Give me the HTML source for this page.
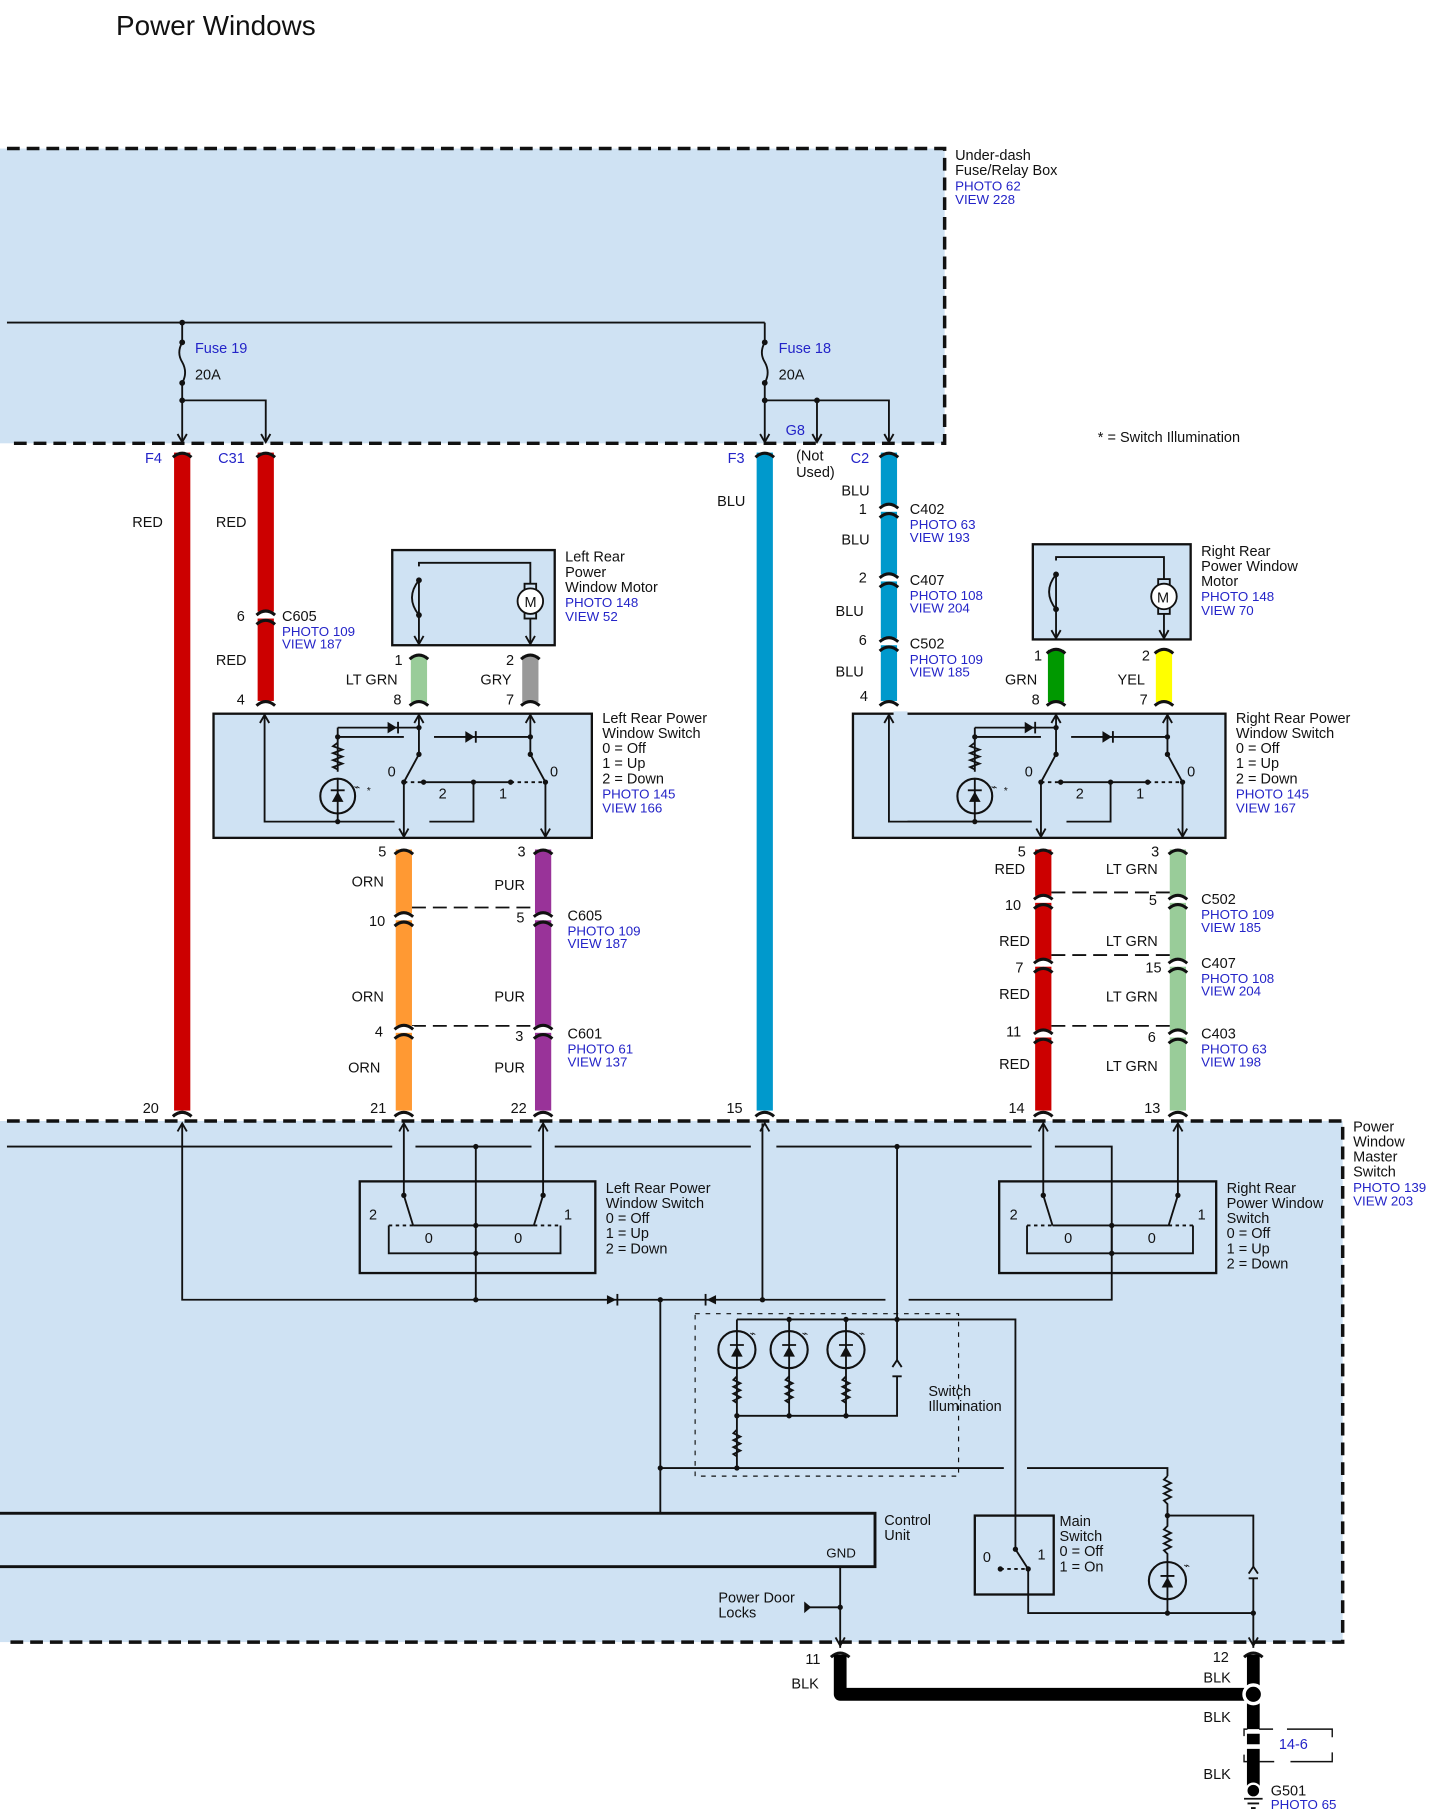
<!DOCTYPE html>
<html><head><meta charset="utf-8"><style>
html,body{margin:0;padding:0;background:#fff}
svg{display:block}
text{font-family:"Liberation Sans",Arial,sans-serif;font-size:12.5px;fill:#111}
.b{fill:#2424c8;font-size:11.5px}
.ln{stroke:#111;stroke-width:1.6;fill:none}
.bx{stroke:#111;stroke-width:2;fill:#cfe2f3}
.dot{fill:#111}
.cap{stroke:#111;stroke-width:2.6;fill:none}
</style></head><body>
<svg width="1439" height="1815" viewBox="0 0 1240 1564" preserveAspectRatio="none" xmlns="http://www.w3.org/2000/svg">
<defs>
<path id="ct" d="M-8,4 Q0,-3 8,4" class="cap"/>
<path id="ar" d="M-4,-7 L0,0 L4,-7" class="ln"/>
<path id="au" d="M-4,7 L0,0 L4,7" class="ln"/>
</defs>
<text x="100" y="30" style="font-size:24px">Power Windows</text>

<!-- top fuse box -->
<rect x="0" y="128" width="814" height="254" fill="#cfe2f3"/>
<path d="M6,128 H814 V382 H6" fill="none" stroke="#111" stroke-width="3" stroke-dasharray="11,6"/>
<text x="823" y="138">Under-dash</text><text x="823" y="151">Fuse/Relay Box</text>
<text x="823" y="164" class="b">PHOTO 62</text><text x="823" y="176" class="b">VIEW 228</text>
<path class="ln" d="M6,278 H659"/>
<path class="ln" d="M157,278 V295 q-5,9 0,17 q5,9 0,18 V380 M157,345 H229 V380"/>
<path class="ln" d="M659,278 V295 q-5,9 0,17 q5,9 0,18 V380 M659,345 H766 V380 M704,345 V380"/>
<g class="dot"><circle cx="157" cy="278" r="2.5"/><circle cx="157" cy="295" r="2.5"/><circle cx="157" cy="330" r="2.5"/><circle cx="157" cy="345" r="2.5"/>
<circle cx="659" cy="295" r="2.5"/><circle cx="659" cy="330" r="2.5"/><circle cx="659" cy="345" r="2.5"/><circle cx="704" cy="345" r="2.5"/></g>
<use href="#ar" x="157" y="381"/><use href="#ar" x="229" y="381"/><use href="#ar" x="659" y="381"/><use href="#ar" x="704" y="381"/><use href="#ar" x="766" y="381"/>
<text x="168" y="304" class="b" style="font-size:12.5px">Fuse 19</text><text x="168" y="327">20A</text>
<text x="671" y="304" class="b" style="font-size:12.5px">Fuse 18</text><text x="671" y="327">20A</text>
<text x="677" y="375" class="b" style="font-size:12.5px">G8</text>
<text x="946" y="381">* =  Switch Illumination</text>

<text x="125" y="399" class="b" style="font-size:12.5px">F4</text><text x="188" y="399" class="b" style="font-size:12.5px">C31</text>
<text x="627" y="399" class="b" style="font-size:12.5px">F3</text><text x="733" y="399" class="b" style="font-size:12.5px">C2</text>
<text x="686" y="397">(Not</text><text x="686" y="411">Used)</text>

<!-- long wires -->
<rect x="150" y="390" width="14" height="567" fill="#cc0000"/>
<rect x="222" y="390" width="14" height="214" fill="#cc0000"/>
<rect x="652" y="390" width="14" height="567" fill="#0099cc"/>
<rect x="759" y="390" width="14" height="214" fill="#0099cc"/>
<use href="#ct" x="157" y="390"/><use href="#ct" x="229" y="390"/><use href="#ct" x="659" y="390"/><use href="#ct" x="766" y="390"/>
<text x="114" y="454">RED</text><text x="186" y="454">RED</text><text x="618" y="436">BLU</text><text x="725" y="427">BLU</text>
<!-- C605 on C31 -->
<rect x="220" y="527" width="18" height="6" fill="#fff"/><use href="#ct" x="229" y="526"/><use href="#ct" x="229" y="534"/>
<text x="204" y="535">6</text><text x="243" y="535">C605</text><text x="243" y="548" class="b">PHOTO 109</text><text x="243" y="559" class="b">VIEW 187</text>
<text x="186" y="573">RED</text><text x="204" y="607">4</text><use href="#ct" x="229" y="604"/>
<!-- blue connectors -->
<rect x="757" y="435" width="18" height="6" fill="#fff"/><use href="#ct" x="766" y="434"/><use href="#ct" x="766" y="442"/>
<text x="740" y="443">1</text><text x="784" y="443">C402</text><text x="784" y="456" class="b">PHOTO 63</text><text x="784" y="467" class="b">VIEW 193</text>
<text x="725" y="469">BLU</text>
<rect x="757" y="495" width="18" height="6" fill="#fff"/><use href="#ct" x="766" y="494"/><use href="#ct" x="766" y="502"/>
<text x="740" y="502">2</text><text x="784" y="504">C407</text><text x="784" y="517" class="b">PHOTO 108</text><text x="784" y="528" class="b">VIEW 204</text>
<text x="720" y="531">BLU</text>
<rect x="757" y="550" width="18" height="6" fill="#fff"/><use href="#ct" x="766" y="549"/><use href="#ct" x="766" y="557"/>
<text x="740" y="556">6</text><text x="784" y="559">C502</text><text x="784" y="572" class="b">PHOTO 109</text><text x="784" y="583" class="b">VIEW 185</text>
<text x="720" y="583">BLU</text><text x="741" y="604">4</text><use href="#ct" x="766" y="604"/>

<!-- Left rear motor -->
<rect class="bx" x="338" y="474" width="140" height="82"/>
<path class="ln" d="M361,554 V500 M361,488 V485 H457 V554 M361,500 q-12,15 0,30 V554"/>
<circle cx="361" cy="500" r="2.5" class="dot"/><circle cx="361" cy="530" r="2.5" class="dot"/>
<rect x="452" y="503" width="10" height="30" class="ln" style="fill:#cfe2f3"/>
<circle cx="457" cy="518" r="11" fill="#fff" stroke="#111" stroke-width="1.6"/><text x="452" y="523">M</text>
<use href="#ar" x="361" y="555"/><use href="#ar" x="457" y="555"/>
<text x="487" y="484">Left Rear</text><text x="487" y="497">Power</text><text x="487" y="510">Window Motor</text>
<text x="487" y="523" class="b">PHOTO 148</text><text x="487" y="535" class="b">VIEW 52</text>
<rect x="354" y="565" width="14" height="40" fill="#99cc99"/><rect x="450" y="565" width="14" height="40" fill="#999"/>
<use href="#ct" x="361" y="564"/><use href="#ct" x="457" y="564"/><use href="#ct" x="361" y="604"/><use href="#ct" x="457" y="604"/>
<text x="340" y="573">1</text><text x="436" y="573">2</text><text x="298" y="590">LT GRN</text><text x="414" y="590">GRY</text>
<text x="339" y="607">8</text><text x="436" y="607">7</text>

<!-- Right rear motor -->
<rect class="bx" x="890" y="469" width="136" height="82"/>
<path class="ln" d="M910,549 V495 M910,483 V480 H1003 V549 M910,495 q-12,15 0,30 V549"/>
<circle cx="910" cy="495" r="2.5" class="dot"/><circle cx="910" cy="525" r="2.5" class="dot"/>
<rect x="998" y="499" width="10" height="30" class="ln" style="fill:#cfe2f3"/>
<circle cx="1003" cy="514" r="11" fill="#fff" stroke="#111" stroke-width="1.6"/><text x="997" y="519">M</text>
<use href="#ar" x="910" y="550"/><use href="#ar" x="1003" y="550"/>
<text x="1035" y="479">Right Rear</text><text x="1035" y="492">Power Window</text><text x="1035" y="505">Motor</text>
<text x="1035" y="518" class="b">PHOTO 148</text><text x="1035" y="530" class="b">VIEW 70</text>
<rect x="903" y="560" width="14" height="45" fill="#009900"/><rect x="996" y="560" width="14" height="45" fill="#ffff00"/>
<use href="#ct" x="910" y="559"/><use href="#ct" x="1003" y="559"/><use href="#ct" x="910" y="604"/><use href="#ct" x="1003" y="604"/>
<text x="891" y="569">1</text><text x="984" y="569">2</text><text x="866" y="590">GRN</text><text x="963" y="590">YEL</text>
<text x="889" y="607">8</text><text x="982" y="607">7</text>

<!-- Left rear switch -->
<rect class="bx" x="184" y="615" width="326" height="107"/>
<g id="sw">
<path class="ln" d="M228,616 V708 H340 M370,708 H408 V674 M291,627 H361 M291,627 V665 M291,635 H348 M374,635 H457 M361,616 V650 L348,674 V720 M457,616 V650 L470,674 V720 M365,674 H440 M291,700 V708"/>
<path class="ln" d="M348,674 H365 M440,674 H470" stroke-dasharray="3,3"/>
<path class="ln" d="M291,640 l-4,3 l8,3 l-8,3 l8,3 l-8,3 l8,3 l-8,3 l4,2"/>
<circle cx="291" cy="686" r="15" fill="none" stroke="#111" stroke-width="1.8"/><path class="ln" d="M291,671 V701"/><path d="M286,691 L296,691 L291,682 Z" class="dot"/><path class="ln" d="M285,681 H297"/>
<path d="M334,622 L342,627 L334,632Z" class="dot"/><path class="ln" d="M343,622 V632"/>
<path d="M401,630 L409,635 L401,640Z" class="dot"/><path class="ln" d="M410,630 V640"/>
<g class="dot"><circle cx="291" cy="635" r="2.3"/><circle cx="361" cy="627" r="2.3"/><circle cx="361" cy="650" r="2.3"/><circle cx="457" cy="635" r="2.3"/><circle cx="457" cy="650" r="2.3"/><circle cx="348" cy="674" r="2.3"/><circle cx="470" cy="674" r="2.3"/><circle cx="365" cy="674" r="2.3"/><circle cx="408" cy="674" r="2.3"/><circle cx="440" cy="674" r="2.3"/><circle cx="291" cy="708" r="2.3"/></g>
<use href="#au" x="228" y="616"/><use href="#au" x="361" y="616"/><use href="#au" x="457" y="616"/><use href="#ar" x="348" y="721"/><use href="#ar" x="470" y="721"/>
<text x="334" y="669">0</text><text x="474" y="669">0</text><text x="378" y="688">2</text><text x="430" y="688">1</text>
<text x="305" y="681" style="font-size:9px">⌁</text><text x="316" y="684" style="font-size:9px">*</text>
</g>
<text x="519" y="623">Left Rear Power</text><text x="519" y="636">Window Switch</text><text x="519" y="649">0 = Off</text><text x="519" y="662">1 = Up</text><text x="519" y="675">2 = Down</text>
<text x="519" y="688" class="b">PHOTO 145</text><text x="519" y="700" class="b">VIEW 166</text>

<!-- Right rear switch -->
<rect class="bx" x="735" y="615" width="321" height="107"/>
<use href="#sw" x="549" y="0"/>
<rect x="770" y="613" width="12" height="100" fill="#cfe2f3"/>
<path class="ln" d="M766,616 V708 H889"/><use href="#au" x="766" y="616"/>
<text x="1065" y="623">Right Rear Power</text><text x="1065" y="636">Window Switch</text><text x="1065" y="649">0 = Off</text><text x="1065" y="662">1 = Up</text><text x="1065" y="675">2 = Down</text>
<text x="1065" y="688" class="b">PHOTO 145</text><text x="1065" y="700" class="b">VIEW 167</text>

<!-- left lower wires -->
<rect x="341" y="732" width="14" height="225" fill="#ff9933"/><rect x="461" y="732" width="14" height="225" fill="#993399"/>
<use href="#ct" x="348" y="732"/><use href="#ct" x="468" y="732"/>
<text x="326" y="738">5</text><text x="446" y="738">3</text><text x="303" y="764">ORN</text><text x="426" y="767">PUR</text>
<path d="M355,782 H461 M355,884 H461" stroke="#111" stroke-width="1.6" stroke-dasharray="12,6"/>
<rect x="339" y="787" width="18" height="6" fill="#fff"/><rect x="459" y="787" width="18" height="6" fill="#fff"/>
<use href="#ct" x="348" y="786"/><use href="#ct" x="348" y="794"/><use href="#ct" x="468" y="786"/><use href="#ct" x="468" y="794"/>
<text x="318" y="798">10</text><text x="445" y="795">5</text><text x="489" y="793">C605</text><text x="489" y="806" class="b">PHOTO 109</text><text x="489" y="817" class="b">VIEW 187</text>
<text x="303" y="863">ORN</text><text x="426" y="863">PUR</text>
<rect x="339" y="884" width="18" height="6" fill="#fff"/><rect x="459" y="884" width="18" height="6" fill="#fff"/>
<use href="#ct" x="348" y="883"/><use href="#ct" x="348" y="891"/><use href="#ct" x="468" y="883"/><use href="#ct" x="468" y="891"/>
<text x="323" y="893">4</text><text x="444" y="897">3</text><text x="489" y="895">C601</text><text x="489" y="908" class="b">PHOTO 61</text><text x="489" y="919" class="b">VIEW 137</text>
<text x="300" y="924">ORN</text><text x="426" y="924">PUR</text>

<!-- right lower wires -->
<rect x="892" y="732" width="14" height="225" fill="#cc0000"/><rect x="1008" y="732" width="14" height="225" fill="#99cc99"/>
<use href="#ct" x="899" y="732"/><use href="#ct" x="1015" y="732"/>
<text x="877" y="738">5</text><text x="992" y="738">3</text><text x="857" y="753">RED</text><text x="953" y="753">LT GRN</text>
<path d="M906,769 H1008 M906,823 H1008 M906,884 H1008" stroke="#111" stroke-width="1.6" stroke-dasharray="12,6"/>
<rect x="890" y="772" width="18" height="6" fill="#fff"/><rect x="1006" y="772" width="18" height="6" fill="#fff"/>
<use href="#ct" x="899" y="771"/><use href="#ct" x="899" y="779"/><use href="#ct" x="1015" y="771"/><use href="#ct" x="1015" y="779"/>
<text x="866" y="784">10</text><text x="990" y="780">5</text><text x="1035" y="779">C502</text><text x="1035" y="792" class="b">PHOTO 109</text><text x="1035" y="803" class="b">VIEW 185</text>
<text x="861" y="815">RED</text><text x="953" y="815">LT GRN</text>
<rect x="890" y="827" width="18" height="6" fill="#fff"/><rect x="1006" y="827" width="18" height="6" fill="#fff"/>
<use href="#ct" x="899" y="826"/><use href="#ct" x="899" y="834"/><use href="#ct" x="1015" y="826"/><use href="#ct" x="1015" y="834"/>
<text x="875" y="838">7</text><text x="987" y="838">15</text><text x="1035" y="834">C407</text><text x="1035" y="847" class="b">PHOTO 108</text><text x="1035" y="858" class="b">VIEW 204</text>
<text x="861" y="861">RED</text><text x="953" y="863">LT GRN</text>
<rect x="890" y="888" width="18" height="6" fill="#fff"/><rect x="1006" y="888" width="18" height="6" fill="#fff"/>
<use href="#ct" x="899" y="887"/><use href="#ct" x="899" y="895"/><use href="#ct" x="1015" y="887"/><use href="#ct" x="1015" y="895"/>
<text x="867" y="893">11</text><text x="989" y="898">6</text><text x="1035" y="895">C403</text><text x="1035" y="908" class="b">PHOTO 63</text><text x="1035" y="919" class="b">VIEW 198</text>
<text x="861" y="921">RED</text><text x="953" y="923">LT GRN</text>

<!-- bottom pin labels -->
<text x="123" y="959">20</text><text x="319" y="959">21</text><text x="440" y="959">22</text><text x="626" y="959">15</text><text x="869" y="959">14</text><text x="986" y="959">13</text>
<g><path class="cap" d="M149,962 Q157,955 165,962"/></g>

<!-- master switch box -->
<rect x="0" y="966" width="1157" height="449" fill="#cfe2f3"/>
<path d="M6,966 H1157 V1415 H6" fill="none" stroke="#111" stroke-width="3" stroke-dasharray="11,6"/>
<g><use href="#ct" x="157" y="958"/><use href="#ct" x="348" y="958"/><use href="#ct" x="468" y="958"/><use href="#ct" x="659" y="958"/><use href="#ct" x="899" y="958"/><use href="#ct" x="1015" y="958"/></g>
<text x="1166" y="975">Power</text><text x="1166" y="988">Window</text><text x="1166" y="1001">Master</text><text x="1166" y="1014">Switch</text>
<text x="1166" y="1027" class="b">PHOTO 139</text><text x="1166" y="1039" class="b">VIEW 203</text>

<path class="ln" d="M6,988 H338 M358,988 H458 M478,988 H647 M669,988 H889 M909,988 H958 V1120 H783 M763,1120 H157 V968 M657,968 V1120 M410,988 V1120 M348,968 V1030 L356,1056 M468,968 V1030 L460,1056 M356,1056 H460 M335,1056 V1080 H483 V1056"/>
<path class="ln" d="M335,1056 H356 M460,1056 H483" stroke-dasharray="3,3"/>
<rect class="bx" x="310" y="1018" width="203" height="79" style="fill:none"/>
<text x="318" y="1051">2</text><text x="486" y="1051">1</text><text x="366" y="1071">0</text><text x="443" y="1071">0</text>
<text x="522" y="1028">Left Rear Power</text><text x="522" y="1041">Window Switch</text><text x="522" y="1054">0 = Off</text><text x="522" y="1067">1 = Up</text><text x="522" y="1080">2 = Down</text>
<g transform="translate(550,0)">
<path class="ln" d="M349,968 V1030 L357,1056 M465,968 V1030 L457,1056 M357,1056 H457 M335,1056 V1080 H478 V1056 M408,1056 V1080"/>
<path class="ln" d="M335,1056 H357 M457,1056 H478" stroke-dasharray="3,3"/>
<text x="320" y="1051">2</text><text x="482" y="1051">1</text><text x="367" y="1071">0</text><text x="439" y="1071">0</text>
</g>
<rect class="bx" x="861" y="1018" width="187" height="79" style="fill:none"/>
<text x="1057" y="1028">Right Rear</text><text x="1057" y="1041">Power Window</text><text x="1057" y="1054">Switch</text><text x="1057" y="1067">0 = Off</text><text x="1057" y="1080">1 = Up</text><text x="1057" y="1093">2 = Down</text>
<use href="#au" x="157" y="968"/><use href="#au" x="348" y="968"/><use href="#au" x="468" y="968"/><use href="#au" x="659" y="968"/><use href="#au" x="899" y="968"/><use href="#au" x="1015" y="968"/>
<g class="dot"><circle cx="410" cy="988" r="2.3"/><circle cx="410" cy="1056" r="2.3"/><circle cx="410" cy="1080" r="2.3"/><circle cx="410" cy="1120" r="2.3"/><circle cx="958" cy="1056" r="2.3"/><circle cx="958" cy="1080" r="2.3"/><circle cx="773" cy="988" r="2.3"/><circle cx="569" cy="1120" r="2.3"/><circle cx="657" cy="1120" r="2.3"/><circle cx="348" cy="1030" r="2.3"/><circle cx="468" cy="1030" r="2.3"/><circle cx="899" cy="1030" r="2.3"/><circle cx="1015" cy="1030" r="2.3"/></g>
<path d="M523,1116 L531,1120 L523,1124Z" class="dot"/><path class="ln" d="M532,1115 V1125"/>
<path d="M617,1116 L609,1120 L617,1124Z" class="dot"/><path class="ln" d="M608,1115 V1125"/>

<!-- switch illumination -->
<rect x="599" y="1132" width="227" height="140" fill="none" stroke="#111" stroke-width="1" stroke-dasharray="4,5"/>
<text x="800" y="1203">Switch</text><text x="800" y="1216">Illumination</text>
<path class="ln" d="M773,988 V1172 M773,1186 V1220 H635 M635,1137 H875 V1335 L886,1352 V1390 H1080 M569,1120 V1304 M569,1265 H865 M885,1265 H1006 V1272 M635,1220 V1265 M680,1137 V1220 M729,1137 V1220 M635,1137 V1220"/>
<path class="ln" d="M769,1178 L773,1172 L777,1178 M769,1186 H777"/>
<g id="lamp"><circle cx="635" cy="1163" r="16" fill="#cfe2f3" stroke="#111" stroke-width="1.8"/><path d="M630,1169 H640 L635,1160Z" class="dot"/><path class="ln" d="M629,1159 H641 M635,1147 V1179"/>
<path class="ln" d="M635,1186 l-3,3 l6,3 l-6,3 l6,3 l-6,3 l6,3 l-6,3 l3,2"/><text x="646" y="1152" style="font-size:9px">⌁</text></g>
<use href="#lamp" x="45"/><use href="#lamp" x="94"/>
<path class="ln" d="M635,1232 l-3,3 l6,3 l-6,3 l6,3 l-6,3 l6,3 l-6,3 l3,2"/>
<g class="dot"><circle cx="680" cy="1137" r="2.3"/><circle cx="729" cy="1137" r="2.3"/><circle cx="773" cy="1137" r="2.3"/><circle cx="680" cy="1220" r="2.3"/><circle cx="729" cy="1220" r="2.3"/><circle cx="635" cy="1220" r="2.3"/><circle cx="635" cy="1265" r="2.3"/><circle cx="569" cy="1265" r="2.3"/><circle cx="1006" cy="1306" r="2.3"/><circle cx="1006" cy="1390" r="2.3"/><circle cx="1080" cy="1390" r="2.3"/><circle cx="875" cy="1335" r="2.3"/><circle cx="886" cy="1352" r="2.3"/><circle cx="862" cy="1352" r="2.3"/><circle cx="724" cy="1385" r="2.3"/></g>

<!-- right side lamp / zener -->
<path class="ln" d="M1006,1272 l-3,3 l6,3 l-6,3 l6,3 l-6,3 l6,3 l-6,3 l3,3 V1306 H1080 V1350 M1080,1360 V1420 M1006,1306 V1315 l-3,3 l6,3 l-6,3 l6,3 l-6,3 l6,3 l-6,3 l3,3 V1390"/>
<circle cx="1006" cy="1362" r="16" fill="#cfe2f3" stroke="#111" stroke-width="1.8"/><path d="M1001,1368 H1011 L1006,1359Z" class="dot"/><path class="ln" d="M1000,1358 H1012 M1006,1346 V1378"/>
<path class="ln" d="M1076,1356 L1080,1350 L1084,1356 M1076,1360 H1084"/><text x="1020" y="1352" style="font-size:9px">⌁</text>
<use href="#ar" x="1080" y="1418"/>

<!-- main switch -->
<rect class="bx" x="840" y="1306" width="68" height="68" style="fill:none"/>
<path class="ln" d="M862,1352 H886" stroke-dasharray="3,3"/>
<text x="847" y="1346">0</text><text x="894" y="1344">1</text>
<text x="913" y="1315">Main</text><text x="913" y="1328">Switch</text><text x="913" y="1341">0 = Off</text><text x="913" y="1354">1 = On</text>

<!-- control unit -->
<rect class="bx" x="-5" y="1304" width="759" height="46" style="fill:none;stroke-width:2.5"/>
<text x="762" y="1314">Control</text><text x="762" y="1327">Unit</text>
<text x="712" y="1342" style="font-size:11.5px">GND</text>
<path class="ln" d="M724,1350 V1420 M697,1385 H724"/><path d="M693,1380 L699,1385 L693,1390Z" class="dot"/>
<use href="#ar" x="724" y="1418"/>
<text x="619" y="1381">Power Door</text><text x="619" y="1394">Locks</text>

<!-- ground wiring -->
<use href="#ct" x="724" y="1424" style="stroke-width:3"/><use href="#ct" x="1080" y="1424" style="stroke-width:3"/>
<path d="M724,1426 V1460 H1080" fill="none" stroke="#000" stroke-width="11" stroke-linejoin="round"/>
<path d="M1080,1426 V1490 M1080,1494 V1503 M1080,1507 V1544" fill="none" stroke="#000" stroke-width="11"/>
<circle cx="1080" cy="1460" r="8" fill="#000" stroke="#fff" stroke-width="3"/>
<circle cx="1080" cy="1543" r="6" fill="#000" stroke="#fff" stroke-width="2"/>
<path class="ln" d="M1072,1550 H1088 M1075,1554 H1085 M1078,1558 H1082"/>
<path d="M1085,1490 H1097 M1109,1490 H1148 V1497 M1148,1510 V1518 H1112 M1098,1518 H1085 M1075,1518 H1072 V1512 M1072,1496 V1490 H1075" stroke="#111" stroke-width="1.2" fill="none"/>
<text x="1102" y="1507" class="b" style="font-size:12.5px">14-6</text>
<text x="694" y="1434">11</text><text x="1045" y="1432">12</text>
<text x="682" y="1455">BLK</text><text x="1037" y="1450">BLK</text><text x="1037" y="1484">BLK</text><text x="1037" y="1533">BLK</text>
<text x="1095" y="1547">G501</text><text x="1095" y="1559" class="b">PHOTO 65</text>
</svg>
</body></html>
